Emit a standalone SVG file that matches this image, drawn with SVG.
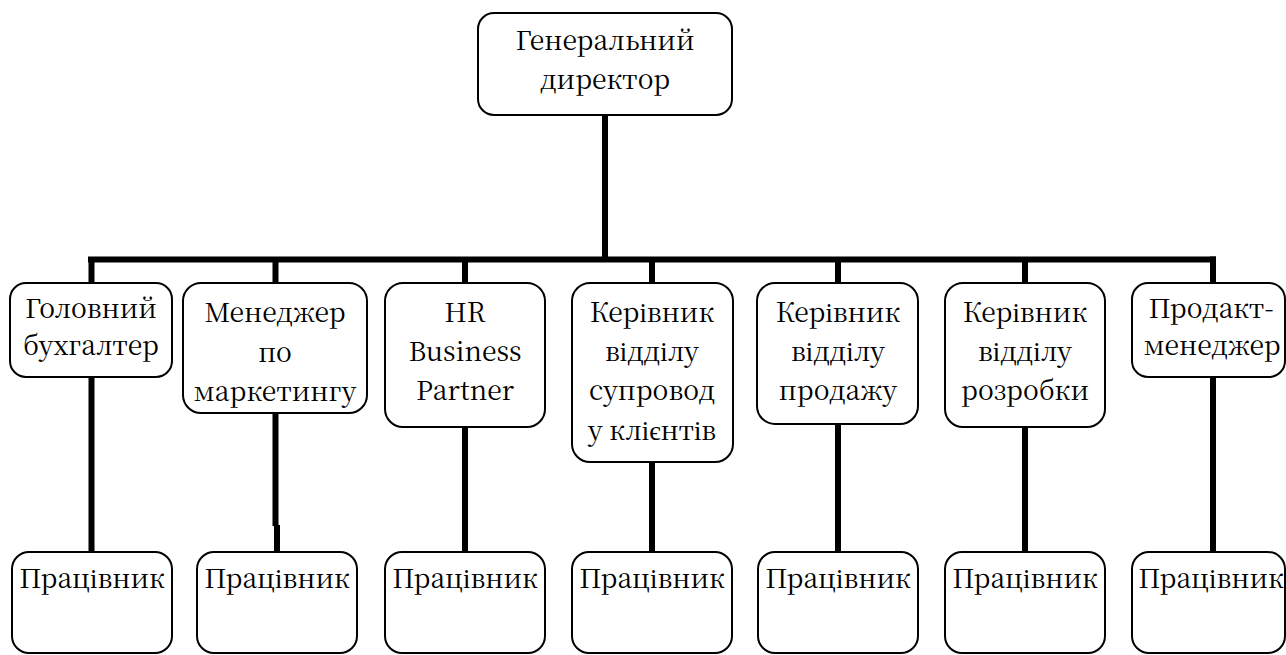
<svg xmlns="http://www.w3.org/2000/svg" width="1286" height="655" viewBox="0 0 1286 655">
<style>
.box{fill:#fff;stroke:#000;stroke-width:2}
.t{font-family:"Noto Serif CJK SC","Liberation Serif","Times New Roman",serif;font-size:26.5px;fill:#000;text-anchor:middle}
.c{stroke:#000;stroke-width:6;fill:none}
</style>
<rect width="1286" height="655" fill="#fff"/>
<g id="connectors">
<line class="c" x1="605" y1="115" x2="605" y2="259"/>
<line class="c" x1="88" y1="259.5" x2="1216" y2="259.5"/>
<line class="c" x1="91.5" y1="259" x2="91.5" y2="552"/>
<line class="c" x1="275.5" y1="259" x2="275.5" y2="526"/>
<line class="c" x1="277" y1="525" x2="277" y2="552"/>
<line class="c" x1="465" y1="259" x2="465" y2="552"/>
<line class="c" x1="652" y1="259" x2="652" y2="552"/>
<line class="c" x1="838" y1="259" x2="838" y2="552"/>
<line class="c" x1="1025" y1="259" x2="1025" y2="552"/>
<line class="c" x1="1213" y1="256.5" x2="1213" y2="552"/>
</g>
<g id="n0"><rect class="box" x="478" y="13" width="254" height="102" rx="16"/><text class="t" x="605" y="50">Генеральний</text><text class="t" x="605" y="89">директор</text></g>
<g id="n1"><rect class="box" x="10" y="283" width="162" height="94" rx="16"/><text class="t" x="91" y="318">Головний</text><text class="t" x="91" y="355">бухгалтер</text></g>
<g id="n2"><rect class="box" x="183" y="283" width="184" height="130" rx="18"/><text class="t" x="275" y="322">Менеджер</text><text class="t" x="275" y="362">по</text><text class="t" x="275" y="401">маркетингу</text></g>
<g id="n3"><rect class="box" x="385" y="283" width="160" height="144" rx="18"/><text class="t" x="465" y="322">HR</text><text class="t" x="465" y="361">Business</text><text class="t" x="465" y="400">Partner</text></g>
<g id="n4"><rect class="box" x="572" y="283" width="161" height="179" rx="18"/><text class="t" x="652" y="322">Керівник</text><text class="t" x="652" y="361">відділу</text><text class="t" x="652" y="400">супровод</text><text class="t" x="652" y="440">у клієнтів</text></g>
<g id="n5"><rect class="box" x="757" y="283" width="161" height="141" rx="18"/><text class="t" x="838" y="322">Керівник</text><text class="t" x="838" y="361">відділу</text><text class="t" x="838" y="400">продажу</text></g>
<g id="n6"><rect class="box" x="945" y="283" width="160" height="144" rx="18"/><text class="t" x="1025" y="322">Керівник</text><text class="t" x="1025" y="361">відділу</text><text class="t" x="1025" y="400">розробки</text></g>
<g id="n7"><rect class="box" x="1132" y="283" width="153" height="94" rx="16"/><text class="t" x="1211" y="318">Продакт-</text><text class="t" x="1212" y="355">менеджер</text></g>
<g id="w1"><rect class="box" x="12" y="552" width="160" height="101" rx="17"/><text class="t" x="92" y="588">Працівник</text></g>
<g id="w2"><rect class="box" x="197" y="552" width="160" height="101" rx="17"/><text class="t" x="277" y="588">Працівник</text></g>
<g id="w3"><rect class="box" x="385" y="552" width="160" height="101" rx="17"/><text class="t" x="465" y="588">Працівник</text></g>
<g id="w4"><rect class="box" x="572" y="552" width="160" height="101" rx="17"/><text class="t" x="652" y="588">Працівник</text></g>
<g id="w5"><rect class="box" x="758" y="552" width="160" height="101" rx="17"/><text class="t" x="838" y="588">Працівник</text></g>
<g id="w6"><rect class="box" x="945" y="552" width="160" height="101" rx="17"/><text class="t" x="1025" y="588">Працівник</text></g>
<g id="w7"><rect class="box" x="1132" y="552" width="153" height="101" rx="17"/><text class="t" x="1211" y="588">Працівник</text></g>
</svg>
